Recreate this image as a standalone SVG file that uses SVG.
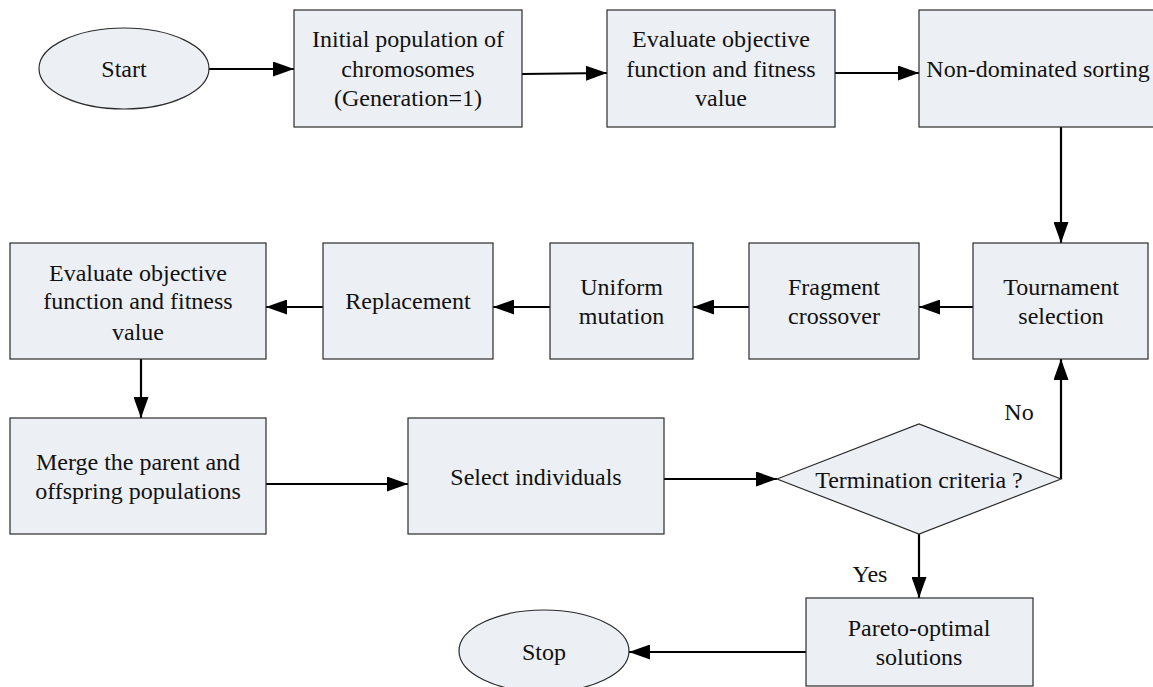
<svg xmlns="http://www.w3.org/2000/svg" width="1153" height="687" viewBox="0 0 1153 687">
  <style>
    .box { fill: #ECEFF4; stroke: #2b2b2b; stroke-width: 1.2; }
    .lbl { font-family: "Liberation Serif", "Times New Roman", serif; font-size: 24px; fill: #111; text-anchor: middle; }
    .edge { fill: none; stroke: #000; stroke-width: 2.2; }
  </style>
  <defs>
    <marker id="arrow" markerUnits="userSpaceOnUse" markerWidth="21" markerHeight="15" refX="21" refY="7.5" orient="auto">
      <path d="M0,0 L21,7.5 L0,15 Z" fill="#000"/>
    </marker>
  </defs>
  <rect width="1153" height="687" fill="#fff"/>

  <!-- connectors -->
  <g id="connectors">
    <line class="edge" x1="209" y1="69" x2="294" y2="69" marker-end="url(#arrow)"/>
    <line class="edge" x1="522" y1="74" x2="607" y2="73" marker-end="url(#arrow)"/>
    <line class="edge" x1="835" y1="73" x2="919" y2="73" marker-end="url(#arrow)"/>
    <line class="edge" x1="1061" y1="127" x2="1061" y2="243" marker-end="url(#arrow)"/>
    <line class="edge" x1="973" y1="307" x2="919" y2="307" marker-end="url(#arrow)"/>
    <line class="edge" x1="749" y1="307" x2="693" y2="307" marker-end="url(#arrow)"/>
    <line class="edge" x1="550" y1="307" x2="493" y2="307" marker-end="url(#arrow)"/>
    <line class="edge" x1="323" y1="307" x2="266" y2="307" marker-end="url(#arrow)"/>
    <line class="edge" x1="141" y1="359" x2="141" y2="418" marker-end="url(#arrow)"/>
    <line class="edge" x1="266" y1="484" x2="408" y2="484" marker-end="url(#arrow)"/>
    <line class="edge" x1="664" y1="479" x2="777" y2="479" marker-end="url(#arrow)"/>
    <line class="edge" x1="1061" y1="479" x2="1061" y2="359" marker-end="url(#arrow)"/>
    <line class="edge" x1="919" y1="534" x2="919" y2="598" marker-end="url(#arrow)"/>
    <line class="edge" x1="806" y1="652" x2="629" y2="652" marker-end="url(#arrow)"/>
    <text class="lbl" x="1019" y="420">No</text>
    <text class="lbl" x="870" y="582">Yes</text>
  </g>

  <g id="start">
    <ellipse class="box" cx="124" cy="68.5" rx="85" ry="40.5"/>
    <text class="lbl" x="124" y="77">Start</text>
  </g>

  <g id="init-population">
    <rect class="box" x="294" y="10" width="228" height="117"/>
    <text class="lbl" x="408" y="47">Initial population of</text>
    <text class="lbl" x="408" y="76.5">chromosomes</text>
    <text class="lbl" x="408" y="106">(Generation=1)</text>
  </g>

  <g id="evaluate-1">
    <rect class="box" x="607" y="10" width="228" height="117"/>
    <text class="lbl" x="721" y="47">Evaluate objective</text>
    <text class="lbl" x="721" y="76.5">function and fitness</text>
    <text class="lbl" x="721" y="106">value</text>
  </g>

  <g id="non-dominated-sorting">
    <rect class="box" x="919" y="10" width="240" height="117"/>
    <text class="lbl" x="1038" y="77">Non-dominated sorting</text>
  </g>

  <g id="tournament-selection">
    <rect class="box" x="973" y="243" width="175" height="116"/>
    <text class="lbl" x="1061" y="294.5">Tournament</text>
    <text class="lbl" x="1061" y="323.5">selection</text>
  </g>

  <g id="fragment-crossover">
    <rect class="box" x="749" y="243" width="170" height="116"/>
    <text class="lbl" x="834" y="294.5">Fragment</text>
    <text class="lbl" x="834" y="323.5">crossover</text>
  </g>

  <g id="uniform-mutation">
    <rect class="box" x="550" y="243" width="143" height="116"/>
    <text class="lbl" x="621.5" y="294.5">Uniform</text>
    <text class="lbl" x="621.5" y="323.5">mutation</text>
  </g>

  <g id="replacement">
    <rect class="box" x="323" y="243" width="170" height="116"/>
    <text class="lbl" x="408" y="309">Replacement</text>
  </g>

  <g id="evaluate-2">
    <rect class="box" x="10" y="243" width="256" height="116"/>
    <text class="lbl" x="138" y="280.5">Evaluate objective</text>
    <text class="lbl" x="138" y="309">function and fitness</text>
    <text class="lbl" x="138" y="339.5">value</text>
  </g>

  <g id="merge-populations">
    <rect class="box" x="10" y="418" width="256" height="116"/>
    <text class="lbl" x="138" y="470">Merge the parent and</text>
    <text class="lbl" x="138" y="499">offspring populations</text>
  </g>

  <g id="select-individuals">
    <rect class="box" x="408" y="418" width="256" height="116"/>
    <text class="lbl" x="536" y="485">Select individuals</text>
  </g>

  <g id="termination-criteria">
    <polygon class="box" points="777,479 919,424 1061,479 919,534"/>
    <text class="lbl" x="919" y="488">Termination criteria ?</text>
  </g>

  <g id="pareto-optimal">
    <rect class="box" x="806" y="598" width="227" height="88"/>
    <text class="lbl" x="919" y="636">Pareto-optimal</text>
    <text class="lbl" x="919" y="665">solutions</text>
  </g>

  <g id="stop">
    <ellipse class="box" cx="544" cy="651" rx="85" ry="41"/>
    <text class="lbl" x="544" y="660">Stop</text>
  </g>
</svg>
